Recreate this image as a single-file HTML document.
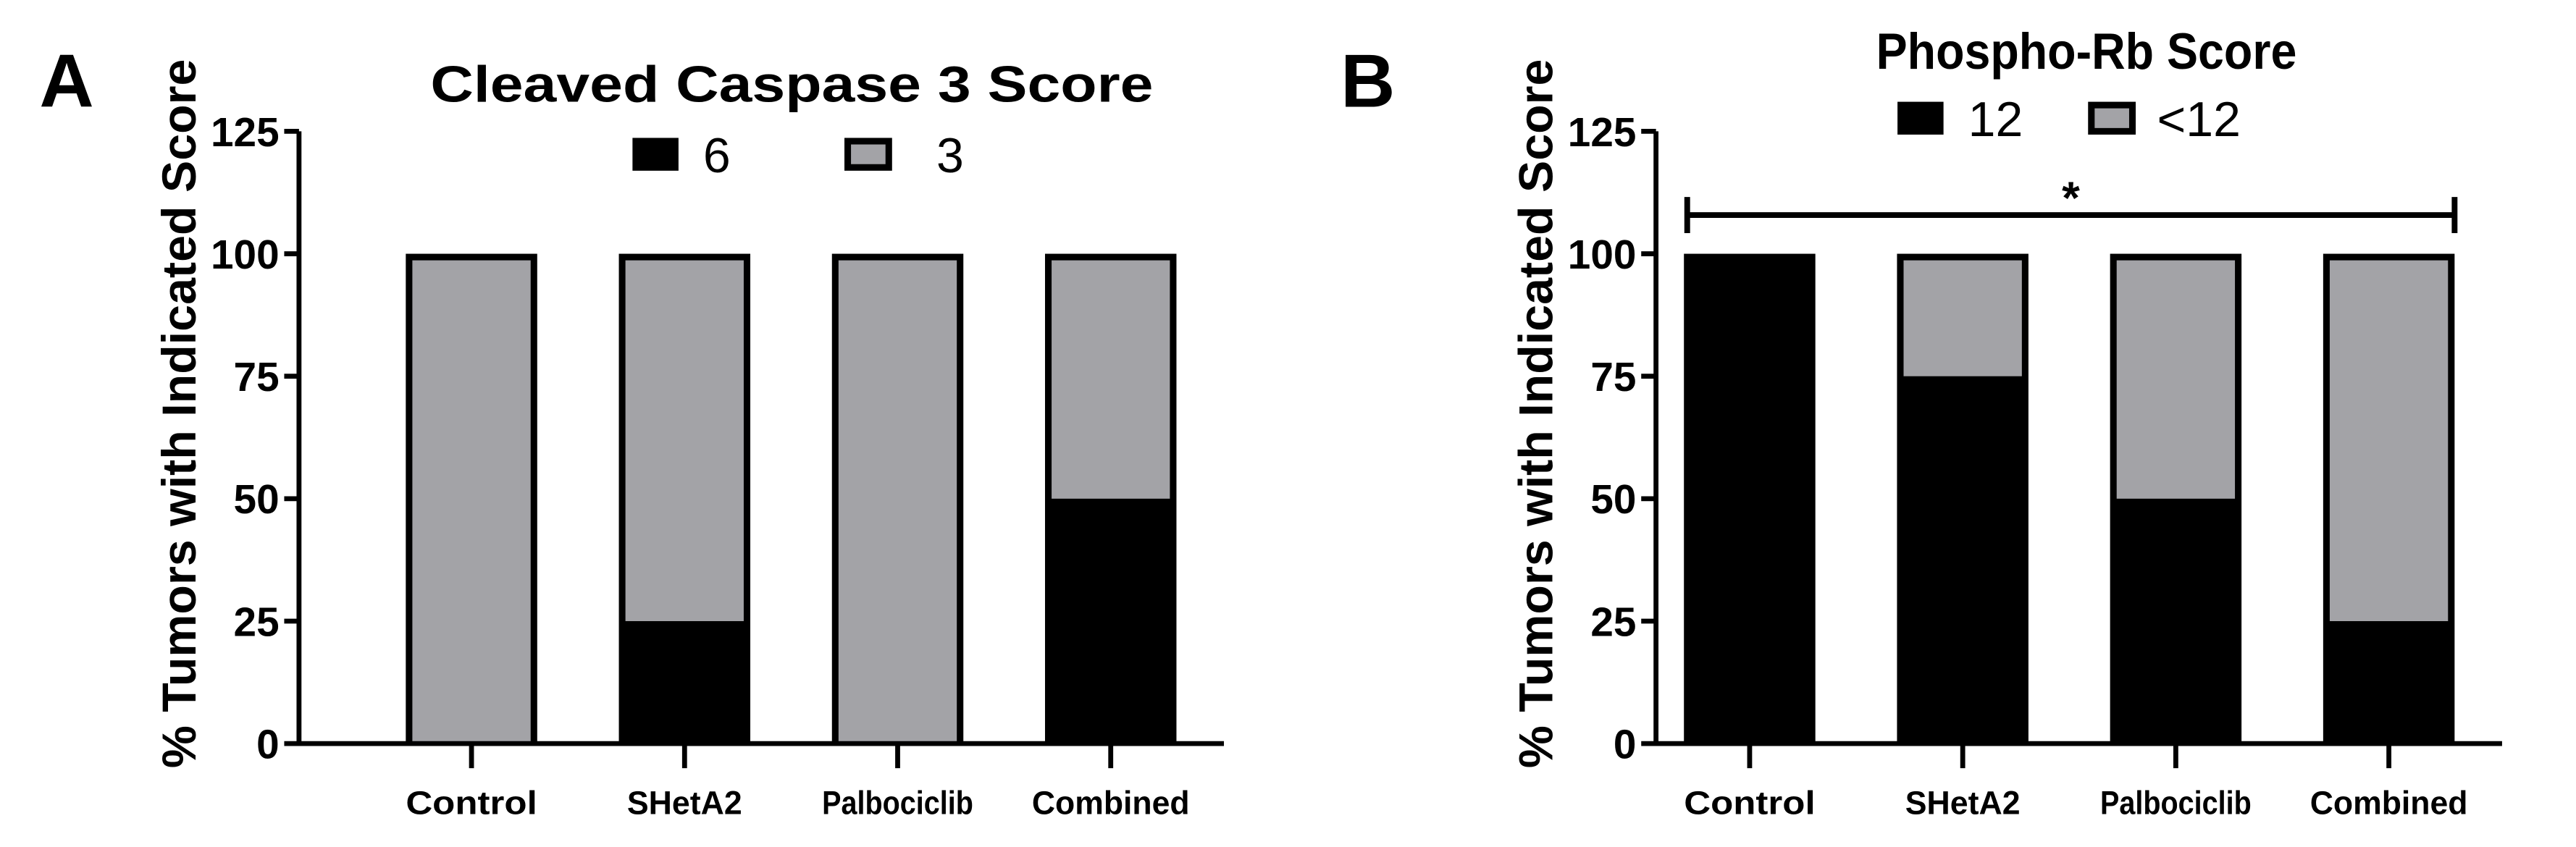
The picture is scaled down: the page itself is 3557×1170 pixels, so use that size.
<!DOCTYPE html>
<html><head><meta charset="utf-8"><style>
html,body{margin:0;padding:0;background:#fff;}
svg{display:block;}
text{font-family:"Liberation Sans",Arial,sans-serif;font-weight:bold;fill:#000;}
</style></head><body>
<svg id="fig" width="3557" height="1170" viewBox="0 0 1568 516" preserveAspectRatio="none" xmlns="http://www.w3.org/2000/svg"></svg>
<script>
const categories = ["Control","SHetA2","Palbociclib","Combined"];
const caspaseHigh = [0,25,0,50];      // score 6 (black)
const rbHigh = [100,75,50,25];        // score 12 (black)
const totals = [100,100,100,100];
const yTicks = [0,25,50,75,100,125];

const NS="http://www.w3.org/2000/svg";
const svg=document.getElementById('fig');
function el(tag,attrs,parent){const e=document.createElementNS(NS,tag);for(const k in attrs)e.setAttribute(k,attrs[k]);(parent||svg).appendChild(e);return e;}
const GRAY="#a3a3a7";
const xLabelW=[80,70,92,96];

function panel(cfg){
  const g=el('g',{});
  
  
  const y0=453,yTop=80;
  const ys=v=>y0-(v/125)*(y0-yTop);
  const xs=i=>cfg.bar0+i*cfg.step;
  const bw=80, sw=4;
  const L=el('text',{x:cfg.letterX,y:65,'font-size':46},g);L.textContent=cfg.letter;
  
  const T=el('text',{x:cfg.titleX,y:cfg.titleY,'font-size':31,'text-anchor':'middle',textLength:cfg.titleW,lengthAdjust:'spacingAndGlyphs'},g);T.textContent=cfg.title;
  
  const YT=el('text',{x:0,y:0,'font-size':29,'text-anchor':'middle',textLength:432,lengthAdjust:'spacingAndGlyphs',transform:`translate(${cfg.axisX-63},${252}) rotate(-90)`},g);
  YT.textContent="% Tumors with Indicated Score";
  
  const ax=el('path',{d:`M${cfg.axisX},${yTop} V${y0} H${cfg.axisEnd}`,stroke:'#000','stroke-width':3,fill:'none'},g);
  
  yTicks.forEach(t=>{
    el('line',{x1:cfg.axisX-9,x2:cfg.axisX,y1:ys(t),y2:ys(t),stroke:'#000','stroke-width':3},g);
    const tl=el('text',{x:cfg.axisX-12,y:ys(t)+9,'font-size':25,'text-anchor':'end'},g);tl.textContent=t;
    
  });
  categories.forEach((c,i)=>{
    const x=xs(i), cx=x+bw/2;
    el('line',{x1:cx,x2:cx,y1:y0,y2:y0+15,stroke:'#000','stroke-width':3},g);
    const xl=el('text',{x:cx,y:496,'font-size':20,'text-anchor':'middle',textLength:xLabelW[i],lengthAdjust:'spacingAndGlyphs'},g);xl.textContent=c;
    
    const bar=el('rect',{x:x,y:ys(totals[i]),width:bw,height:y0-ys(totals[i]),fill:'#000'},g);
    
    const hv=cfg.data[i];
    if(hv<totals[i]){
      const gr=el('rect',{x:x+sw,y:ys(totals[i])+sw,width:bw-2*sw,height:ys(hv)-ys(totals[i])-sw-(hv===0?1.5:0),fill:GRAY},g);
      
    }
  });
  const lg=el('g',{},g);
  el('rect',{x:cfg.leg[0],y:cfg.legY,width:28,height:20,fill:'#000'},lg);
  const t1=el('text',{x:cfg.leg[1],y:cfg.legY+21,'font-size':30,style:'font-weight:normal'},lg);t1.textContent=cfg.labels[0];
  el('rect',{x:cfg.leg[2]+2,y:cfg.legY+2,width:25,height:16,fill:GRAY,stroke:'#000','stroke-width':4},lg);
  const t2=el('text',{x:cfg.leg[3],y:cfg.legY+21,'font-size':30,style:'font-weight:normal'},lg);t2.textContent=cfg.labels[1];
  if(cfg.sig){
    const s=el('g',{},g);
    const a=xs(0)+2,b=xs(3)+bw;
    el('path',{d:`M${a},120 V142 M${a},131 H${b} M${b},120 V142`,stroke:'#000','stroke-width':3.5,fill:'none'},s);
    const st=el('text',{x:(a+b)/2,y:130,'font-size':28,'text-anchor':'middle'},s);st.textContent='*';
  }
}
panel({name:'panel-a-cleaved-caspase',letter:'A',letterX:24,title:'Cleaved Caspase 3 Score',titleX:482,titleY:62,titleW:440,
  axisX:182,axisEnd:745,bar0:247,step:129.7,data:caspaseHigh,leg:[385,428,514,570],legY:84,labels:['6','3'],sig:false});
panel({name:'panel-b-phospho-rb',letter:'B',letterX:816,title:'Phospho-Rb Score',titleX:1270,titleY:42,titleW:256,
  axisX:1008,axisEnd:1523,bar0:1025,step:129.7,data:rbHigh,leg:[1155,1198,1271,1313],legY:62,labels:['12','<12'],sig:true});
</script>
</body></html>
